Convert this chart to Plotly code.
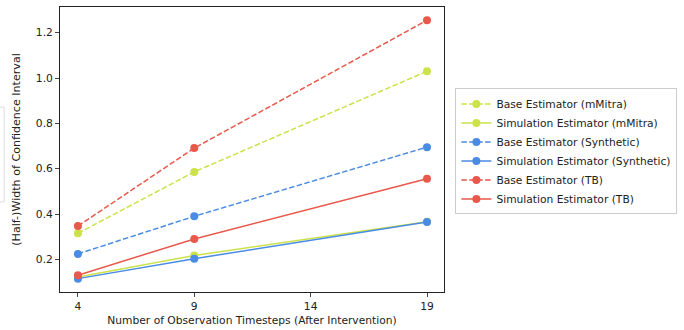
import plotly.graph_objects as go

x_steps = [4, 9, 19]
tick_vals = [4, 9, 14, 19]

base_mmitra = [0.315, 0.586, 1.030]
sim_mmitra = [0.122, 0.217, 0.366]
base_synth = [0.224, 0.390, 0.695]
sim_synth = [0.115, 0.203, 0.365]
base_tb = [0.347, 0.691, 1.255]
sim_tb = [0.130, 0.290, 0.556]

c_mm = "#cbe24a"
c_sy = "#4a8be3"
c_tb = "#e8584b"

series = [
    ("Base Estimator (mMitra)", base_mmitra, c_mm, "5.5px,2.4px"),
    ("Simulation Estimator (mMitra)", sim_mmitra, c_mm, "solid"),
    ("Base Estimator (Synthetic)", base_synth, c_sy, "5.5px,2.4px"),
    ("Simulation Estimator (Synthetic)", sim_synth, c_sy, "solid"),
    ("Base Estimator (TB)", base_tb, c_tb, "5.5px,2.4px"),
    ("Simulation Estimator (TB)", sim_tb, c_tb, "solid"),
]

fig = go.Figure()
for name, ys, col, dash in series:
    fig.add_trace(go.Scatter(
        x=x_steps, y=ys, name=name, mode="lines+markers",
        line=dict(color=col, width=1.5, dash=dash),
        marker=dict(color=col, size=8),
    ))

fs = 10.7
fam = "DejaVu Sans"
def px(p):
    return (p - 60) / 385
fig.update_layout(
    width=684, height=330,
    margin=dict(l=60, r=239, t=6, b=36),
    paper_bgcolor="white", plot_bgcolor="white",
    font=dict(family=fam, size=fs, color="#222"),
    showlegend=True,
    legend=dict(x=px(679), y=0.493, xanchor="right", yanchor="middle",
                bordercolor="#cccccc", borderwidth=1, bgcolor="white",
                font=dict(family=fam, size=fs, color="#222"),
                tracegroupgap=0, itemwidth=30),
    xaxis=dict(range=[3.23, 19.73], tickvals=tick_vals, ticks="outside", ticklen=4,
               tickfont=dict(family=fam, size=fs, color="#222"),
               showline=True, linecolor="#222", linewidth=1, mirror=True,
               showgrid=False, zeroline=False,
               title=dict(text="Number of Observation Timesteps (After Intervention)", standoff=4,
                          font=dict(family=fam, size=fs, color="#222"))),
    yaxis=dict(range=[0.056, 1.3135], tickvals=[0.2, 0.4, 0.6, 0.8, 1.0, 1.2],
               ticktext=["0.2", "0.4", "0.6", "0.8", "1.0", "1.2"],
               ticks="outside", ticklen=4,
               tickfont=dict(family=fam, size=fs, color="#222"),
               showline=True, linecolor="#222", linewidth=1, mirror=True,
               showgrid=False, zeroline=False,
               title=dict(text="(Half-)Width of Confidence Interval", standoff=12,
                          font=dict(family=fam, size=11.1, color="#222"))),
    shapes=[dict(type="rect", xref="paper", yref="paper",
                 x0=-0.19, x1=-0.1455, y0=0.316, y1=0.649,
                 line=dict(color="#dddddd", width=1), fillcolor="rgba(0,0,0,0)")],
)

fig.write_html("out.html")
